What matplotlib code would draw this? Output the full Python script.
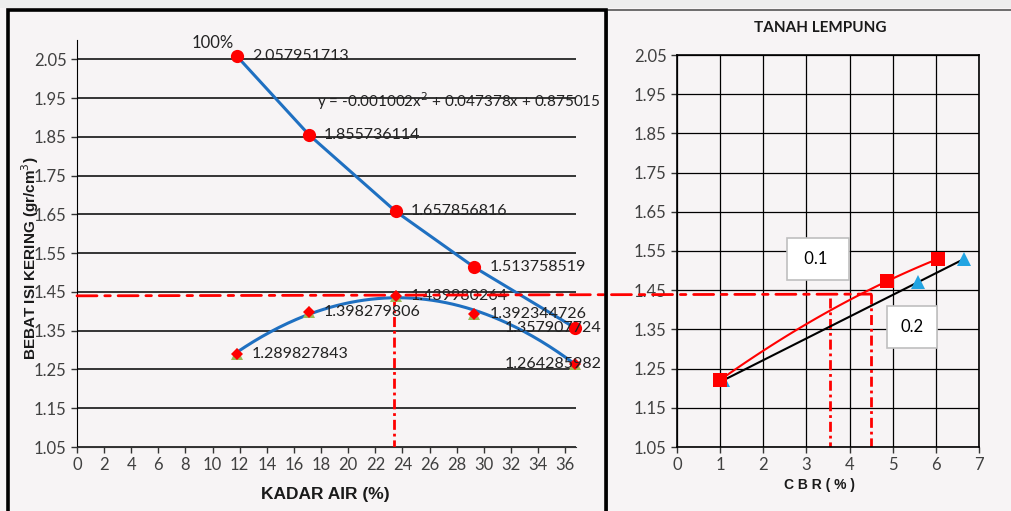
import numpy as np
import matplotlib
matplotlib.use("Agg")
import matplotlib.pyplot as plt
from matplotlib.patches import ConnectionPatch, Rectangle

plt.rcParams['font.family'] = ['Lato', 'DejaVu Sans']

#####################################################
# data
#####################################################
# left chart: kadar air vs berat isi kering
kadar_air = [11.8, 17.1, 23.5, 29.3, 36.7]
zav_100 = [2.057951713, 1.855736114, 1.657856816, 1.513758519, 1.357907724]
berat_isi = [1.289827843, 1.398279806, 1.439980264, 1.392344726, 1.264285982]
# displayed trendline coefficients (a x^2 + b x + c)
trend_coef = [-0.001002, 0.047378, 0.875015]
x_tick_left = list(range(0, 37, 2))
y_ticks = [1.05, 1.15, 1.25, 1.35, 1.45, 1.55, 1.65, 1.75, 1.85, 1.95, 2.05]

# right chart: CBR
cbr_01 = [1.0, 4.87, 6.05]
bi_01 = [1.221, 1.473, 1.530]
cbr_02 = [1.07, 5.59, 6.66]
bi_02 = [1.220, 1.472, 1.530]

# reading lines
bi_max = 1.44
w_opt = 23.4
cbr_read = [3.55, 4.5]

red = '#ff0000'
blue = '#1f70c1'
bg = '#f7f4f5'

W, H = 1011, 511
fig = plt.figure(figsize=(W / 100, H / 100), dpi=100, facecolor=bg)


def px_box(x0, y0, x1, y1):
    return [x0 / W, 1 - y1 / H, (x1 - x0) / W, (y1 - y0) / H]


#####################################################
# left chart
#####################################################
ax1 = fig.add_axes(px_box(77, 40, 576, 447))
ax1.set_facecolor('none')
ax1.set_xlim(0, 36.8)
ax1.set_ylim(1.05, 2.10)
for s in ['top', 'right']:
    ax1.spines[s].set_visible(False)
ax1.spines['left'].set_color('black')
ax1.spines['bottom'].set_color('#333333')
ax1.set_xticks(x_tick_left)
ax1.set_yticks(y_ticks)
ax1.set_yticklabels(['%.2f' % v for v in y_ticks])
ax1.tick_params(axis='both', labelsize=12, length=4, width=1, direction='out', colors='#333333',
                labelcolor='#404040')
for yv in y_ticks:
    ax1.axhline(yv, color='black', lw=1.1, zorder=1)

ax1.plot(kadar_air, zav_100, color=blue, lw=2.2, zorder=3)
ax1.plot(kadar_air, zav_100, 'o', color=red, ms=9.5, zorder=4, markeredgewidth=0, clip_on=False)

xt = np.linspace(kadar_air[0], kadar_air[-1], 200)
ax1.plot(xt, np.polyval(trend_coef, xt), color=blue, lw=2.2, zorder=3)
ax1.plot(kadar_air, berat_isi, '^', color='#9bbb59', ms=9, zorder=4, markeredgewidth=0, clip_on=False)
ax1.plot(kadar_air, berat_isi, 'D', color=red, ms=6.5, zorder=5, markeredgewidth=0, clip_on=False)

for series in (zav_100, berat_isi):
    for i, (x, y) in enumerate(zip(kadar_air, series)):
        if i == len(kadar_air) - 1:
            ax1.annotate('%.9f' % y, (x, y), xytext=(27, 0), textcoords='offset pixels',
                         ha='right', va='center', fontsize=11.5, color='#222222', zorder=6)
        else:
            ax1.annotate('%.9f' % y, (x, y), xytext=(15, 0), textcoords='offset pixels',
                         ha='left', va='center', fontsize=11.5, color='#222222', zorder=6)

ax1.annotate('100%', (kadar_air[0], zav_100[0]), xytext=(-3, 5), textcoords='offset pixels',
             ha='right', va='bottom', fontsize=12, color='#222222')
ax1.text(17.7, 1.942, 'y = -0.001002x$^{2}$ + 0.047378x + 0.875015', fontsize=11,
         color='#222222', ha='left', va='center', zorder=6)

dd = dict(color=red, lw=2, dashes=(3.6, 1.4, 1.0, 1.4))
ax1.plot([w_opt, w_opt], [bi_max, 1.05], zorder=2, **dd)

#####################################################
# right chart
#####################################################
ax2 = fig.add_axes(px_box(677, 55, 979, 447))
ax2.set_facecolor('none')
ax2.set_xlim(0, 7)
ax2.set_ylim(1.05, 2.05)
ax2.set_xticks(range(0, 8))
ax2.set_yticks(y_ticks)
ax2.set_yticklabels(['%.2f' % v for v in y_ticks])
ax2.tick_params(axis='both', labelsize=12, length=4, width=1, direction='out', colors='#333333',
                labelcolor='#404040')
ax2.grid(True, color='black', lw=0.9)
ax2.set_axisbelow(True)
for s in ax2.spines.values():
    s.set_color('black')
    s.set_linewidth(1.2)

xr = np.linspace(cbr_01[0], cbr_01[-1], 100)
ax2.plot(xr, np.polyval(np.polyfit(cbr_01, bi_01, 2), xr), color=red, lw=1.5, zorder=3)
ax2.plot([cbr_02[0], cbr_02[-1]], [bi_02[0], bi_02[-1]], color='black', lw=1.5, zorder=3)
ax2.plot(cbr_02, bi_02, '^', color='#22a4e2', ms=10, zorder=4, markeredgewidth=0)
ax2.plot(cbr_01, bi_01, 's', color=red, ms=10, zorder=5, markeredgewidth=0)

ax2.plot([cbr_read[0], cbr_read[0]], [1.43, 1.05], zorder=2, **dd)
ax2.plot([cbr_read[1], cbr_read[1]], [bi_max, 1.05], zorder=2, **dd)

box = dict(boxstyle='square,pad=0.8', facecolor='white', edgecolor='#bfbfbf', lw=1.2)
ax2.text(3.27, 1.530, ' 0.1  ', fontsize=12, ha='center', va='center', bbox=box, zorder=6)
ax2.text(5.45, 1.356, '0.2', fontsize=12, ha='center', va='center', bbox=box, zorder=6)

# horizontal reading line running across both charts
con = ConnectionPatch(xyA=(0, bi_max), coordsA=ax1.transData, xyB=(cbr_read[1], bi_max),
                      coordsB=ax2.transData, linestyle=(0, (7.2, 2.8, 2.0, 2.8)), color=red, lw=2,
                      zorder=2)
fig.add_artist(con)

#####################################################
# titles, labels and frames
#####################################################
fig.text(820 / W, 1 - 28 / H, 'TANAH LEMPUNG', fontsize=11, fontweight='bold', ha='center',
         va='center', color='#1a1a1a')
fig.text(325 / W, 1 - 494 / H, 'KADAR AIR (%)', fontsize=12.5, fontweight='bold', ha='center',
         va='center', family='Liberation Sans', color='#1a1a1a')
fig.text(820 / W, 1 - 485 / H, 'C B R ( % )', fontsize=10, fontweight='bold', ha='center',
         va='center', family='Liberation Sans', color='#1a1a1a')
fig.text(30 / W, 1 - 258 / H, 'BEBAT ISI KERING (gr/cm$^{3}$)', fontsize=11, fontweight='bold',
         rotation=90, ha='center', va='center', family='Liberation Sans', color='#1a1a1a')

fig.add_artist(Rectangle((0, 1 - 8 / H), 1, 8 / H, transform=fig.transFigure,
                         facecolor='#ededed', edgecolor='none', zorder=0))
fig.add_artist(Rectangle((607 / W, -0.05), 1, 1 - 10 / H + 0.05, transform=fig.transFigure,
                         facecolor='none', edgecolor='#555555', lw=1.2, zorder=10))
fig.add_artist(Rectangle((8 / W, -0.05), 598 / W, 1 - 10 / H + 0.05, transform=fig.transFigure,
                         facecolor='none', edgecolor='black', lw=2.6, zorder=10))

fig.savefig('out.png', dpi=100, facecolor=bg)
